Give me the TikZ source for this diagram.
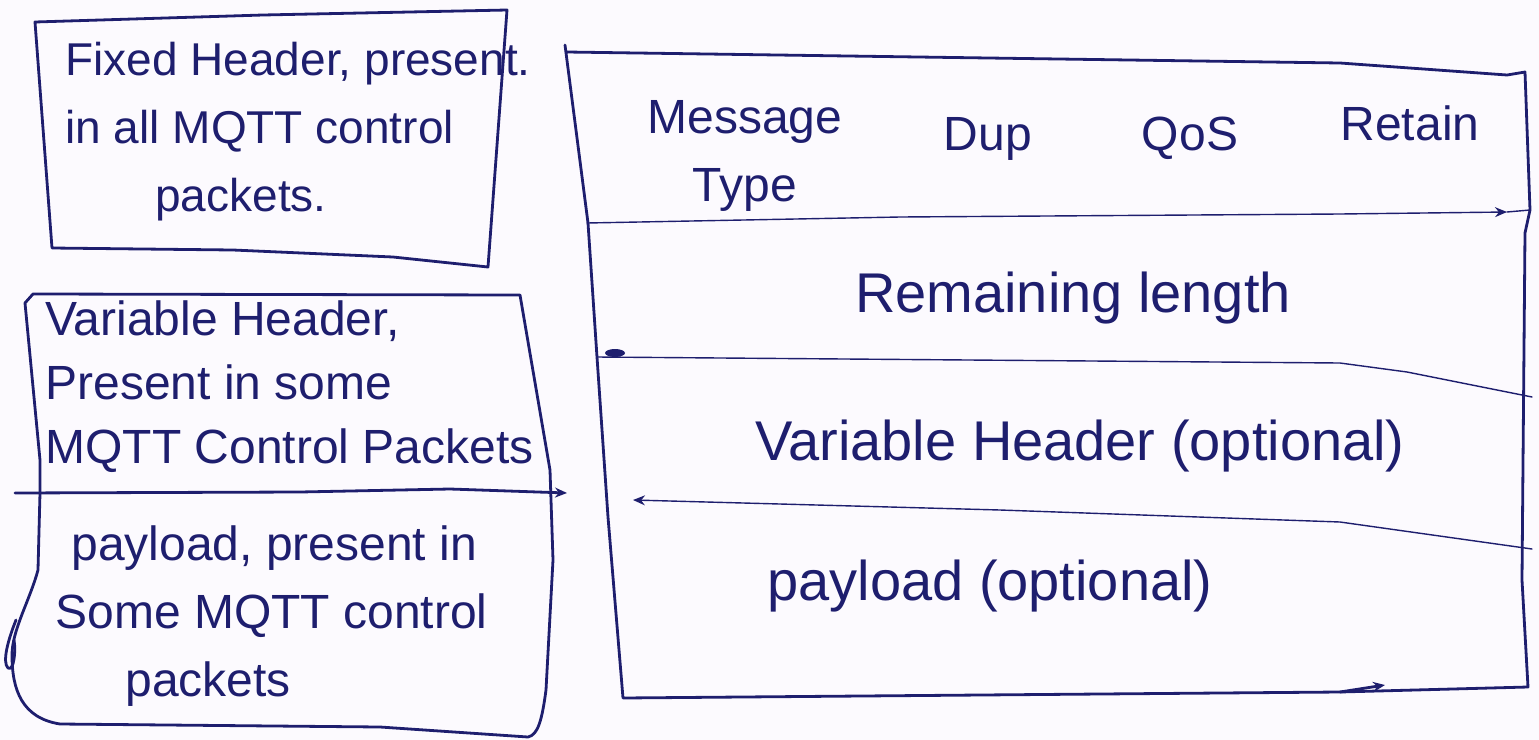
\documentclass[tikz,border=0pt]{standalone}
\usepackage{fontspec}
\setmainfont{Liberation Sans}
\usetikzlibrary{arrows.meta}
\definecolor{ink}{RGB}{30,30,110}
\definecolor{paper}{RGB}{252,250,254}

\begin{document}
\begin{tikzpicture}[x=0.5pt,y=-0.5pt,
  outline/.style={draw=ink, line width=1.4pt, line join=round, line cap=round},
  rule/.style={draw=ink, line width=0.7pt, line join=round, line cap=round},
  penmark/.style={-{Stealth[length=6pt,width=5pt]}},
  txt/.style={text=ink, inner sep=0pt, font=\fontsize{23}{34}\selectfont},
  bigtxt/.style={text=ink, inner sep=0pt, font=\fontsize{28}{34}\selectfont}]
\fill[paper] (0,0) rectangle (1539,740);
\useasboundingbox (0,0) rectangle (1539,740);

% ---- fixed header box ----
\coordinate (f1) at (35,22);
\coordinate (f2) at (507,10);
\coordinate (f3) at (488,267);
\coordinate (f4) at (52,248);
\draw[outline] (f1) -- (263,15) -- (f2) -- (f3) -- (393,257) -- (233,250) -- (f4) -- cycle;
\node[txt, anchor=north west, align=left] (fixedtxt) at (65,42)
  {Fixed Header, present.\\in all MQTT control\\\hspace*{45pt}packets.};

% ---- variable header / payload box ----
\coordinate (v1) at (25,303);
\coordinate (v2) at (520,295);
\coordinate (v3) at (528,737);
\coordinate (dl) at (15,493);
\coordinate (dr) at (567,493);
\draw[outline] (v1) -- (33,294) -- (v2) -- (550,470) -- (553,560) -- (546,690)
  .. controls (542,720) and (538,735) .. (v3) -- (380,727) -- (60,724)
  .. controls (22,718) and (12,690) .. (12,655)
  .. controls (12,630) and (30,600) .. (38,570) -- (40,493) -- (40,460) -- cycle;
\draw[outline] (16,620) .. controls (8,640) and (2,662) .. (8,668)
  .. controls (14,672) and (16,650) .. (14,640);
\draw[outline, penmark] (dl) -- (300,492) -- (450,489) -- (dr);
\node[txt, anchor=north west, align=left, font=\fontsize{24}{32}\selectfont] (vartxt) at (45,300)
  {Variable Header,\\Present in some\\MQTT Control Packets};
\node[txt, anchor=north west, align=left, font=\fontsize{24}{34}\selectfont] (paytxt) at (55,525)
  {\hspace*{8pt}payload, present in\\Some MQTT control\\\hspace*{35pt}packets};

% ---- packet layout box ----
\coordinate (p1) at (565,45);
\coordinate (p2) at (1525,72);
\coordinate (p3) at (1528,687);
\coordinate (p4) at (623,698);
\draw[outline] (p1) -- (588,223) -- (597,357) -- (608,517) -- (p4)
  -- (1340,692) -- (p3) -- (1522,580) -- (1525,233) -- (1530,210) -- (p2)
  -- (1507,75) -- (1340,63) -- (567,52);
\draw[rule, penmark] (587,223) -- (900,217) -- (1340,214) -- (1507,212);
\draw[rule] (1507,212) -- (1530,210);
\draw[rule] (597,357) -- (1340,363) -- (1407,372) -- (1532,397);
\fill[ink] (615,353) ellipse (10 and 4);
\draw[rule, penmark] (1532,549) -- (1340,522) -- (1000,510) -- (633,500);
\draw[outline, penmark] (1340,692) -- (1385,685);

\node[txt, anchor=north, align=center, font=\fontsize{24}{34}\selectfont] (msgtype) at (745,100) {Message\\Type};
\node[txt, anchor=base, font=\fontsize{24}{34}\selectfont] (dup) at (988,150) {Dup};
\node[txt, anchor=base, font=\fontsize{24}{34}\selectfont] (qos) at (1190,150) {QoS};
\node[txt, anchor=base, font=\fontsize{24}{34}\selectfont] (retain) at (1410,140) {Retain};
\node[bigtxt, anchor=base] (remlen) at (1073,312) {Remaining length};
\node[bigtxt, anchor=base] (varhdr) at (1080,460) {Variable Header (optional)};
\node[bigtxt, anchor=base] (payload) at (990,600) {payload (optional)};
\end{tikzpicture}
\end{document}
